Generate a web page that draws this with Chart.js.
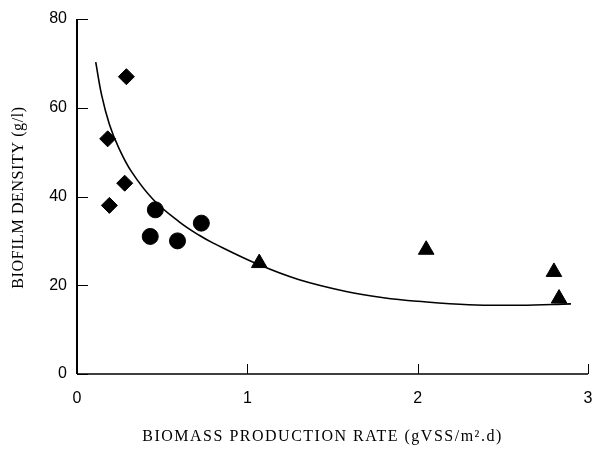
<!DOCTYPE html>
<html lang="en">
<head>
  <meta charset="UTF-8">
  <title>Biofilm density vs biomass production rate</title>
  <script src="https://cdn.jsdelivr.net/npm/chart.js"></script>
  <style>
    html, body { margin: 0; padding: 0; background: #fff; overflow: hidden; }
    #graphCanvas { display: block; }
  </style>
</head>
<body>
  <!-- a few px wider than the window: Chart.js keeps ~10px spare on the right -->
  <canvas id="graphCanvas" width="598" height="449"></canvas>
  <script>
    // Diamonds
    const diamondX = [0.29, 0.18, 0.28, 0.19];
    const diamondY = [67, 53, 43, 38];
    // Circles
    const circleX = [0.46, 0.73, 0.43, 0.59];
    const circleY = [37, 34, 31, 30];
    // Triangles
    const triangleX = [1.07, 2.05, 2.80, 2.83];
    const triangleY = [25, 28, 23, 17];
    // Fitted curve
    const curveX = [0.11, 0.145, 0.19, 0.24, 0.32, 0.45, 0.6, 0.72, 0.8, 1.07, 1.3, 1.58, 1.8, 2.0, 2.3, 2.6, 2.9];
    const curveY = [70.3, 62.8, 56.3, 51.4, 45.6, 39.2, 34.3, 31.2, 29.5, 24.6, 21.3, 18.6, 17.2, 16.4, 15.6, 15.5, 15.8];

    const xTicks = [0, 1, 2, 3];
    const yTicks = [0, 20, 40, 60, 80];
    const xTitle = 'BIOMASS PRODUCTION RATE (gVSS/m\u00b2.d)';
    const yTitle = 'BIOFILM DENSITY (g/l)';

    const toPoints = (xs, ys) => xs.map((x, i) => ({ x: x, y: ys[i] }));

    // Ticks point inward and titles are letter-spaced, so draw them ourselves
    const paperAxes = {
      id: 'paperAxes',
      afterDraw(chart) {
        const ctx = chart.ctx;
        const xs = chart.scales.x, ys = chart.scales.y;
        const area = chart.chartArea;
        ctx.save();
        ctx.strokeStyle = '#000';
        ctx.lineWidth = 1;
        xTicks.forEach(v => {
          const px = Math.round(xs.getPixelForValue(v)) + 0.5;
          ctx.beginPath();
          ctx.moveTo(px, area.bottom);
          ctx.lineTo(px, area.bottom - 10);
          ctx.stroke();
        });
        yTicks.forEach(v => {
          const py = Math.round(ys.getPixelForValue(v)) + 0.5;
          ctx.beginPath();
          ctx.moveTo(area.left, py);
          ctx.lineTo(area.left + 11, py);
          ctx.stroke();
        });
        // axis lines
        ctx.lineWidth = 2;
        ctx.beginPath();
        ctx.moveTo(area.left, area.top);
        ctx.lineTo(area.left, area.bottom);
        ctx.stroke();
        ctx.lineWidth = 1.5;
        ctx.beginPath();
        ctx.moveTo(area.left, area.bottom);
        ctx.lineTo(area.right, area.bottom);
        ctx.stroke();

        // axis titles
        ctx.fillStyle = '#000';
        ctx.textAlign = 'center';
        ctx.textBaseline = 'middle';
        ctx.font = '16px "Liberation Serif"';
        ctx.letterSpacing = '1.5px';
        ctx.fillText(xTitle, area.left + (area.right - area.left) / 2 - 10, 437);
        ctx.letterSpacing = '0.6px';
        ctx.translate(19, (area.top + area.bottom) / 2 + 1);
        ctx.rotate(-Math.PI / 2);
        ctx.fillText(yTitle, 0, 0);
        ctx.restore();
      }
    };

    const ctx = document.getElementById('graphCanvas').getContext('2d');
    const chart = new Chart(ctx, {
      type: 'scatter',
      data: {
        datasets: [
          {
            label: 'Fit',
            type: 'line',
            data: toPoints(curveX, curveY),
            borderColor: '#000',
            borderWidth: 1.6,
            pointRadius: 0,
            fill: false,
            tension: 0.4
          },
          {
            label: 'Diamonds',
            data: toPoints(diamondX, diamondY),
            pointStyle: 'rectRot',
            pointRadius: 8,
            backgroundColor: '#000',
            borderColor: '#000'
          },
          {
            label: 'Circles',
            data: toPoints(circleX, circleY),
            pointStyle: 'circle',
            pointRadius: 8,
            backgroundColor: '#000',
            borderColor: '#000'
          },
          {
            label: 'Triangles',
            data: toPoints(triangleX, triangleY),
            pointStyle: 'triangle',
            pointRadius: 9,
            backgroundColor: '#000',
            borderColor: '#000'
          }
        ]
      },
      options: {
        responsive: false,
        animation: false,
        layout: { padding: { left: 0, right: 0, top: 19, bottom: 0 } },
        plugins: { legend: { display: false }, tooltip: { enabled: false } },
        scales: {
          x: {
            type: 'linear',
            min: 0,
            max: 3,
            afterFit: (s) => { s.height = 75; s.paddingLeft = 0; s.paddingRight = 0; },
            afterBuildTicks: (s) => { s.ticks = xTicks.map(v => ({ value: v })); },
            grid: { display: false, drawTicks: false },
            border: { display: false },
            ticks: {
              color: '#000',
              padding: 15,
              maxRotation: 0,
              font: { family: 'Liberation Sans', size: 16 }
            }
          },
          y: {
            type: 'linear',
            min: 0,
            max: 80,
            afterFit: (s) => { s.width = 77; s.paddingTop = 0; s.paddingBottom = 0; },
            afterBuildTicks: (s) => { s.ticks = yTicks.map(v => ({ value: v })); },
            grid: { display: false, drawTicks: false },
            border: { display: false },
            ticks: {
              color: '#000',
              padding: 10,
              font: { family: 'Liberation Sans', size: 16 }
            }
          }
        }
      },
      plugins: [paperAxes]
    });
  </script>
</body>
</html>
